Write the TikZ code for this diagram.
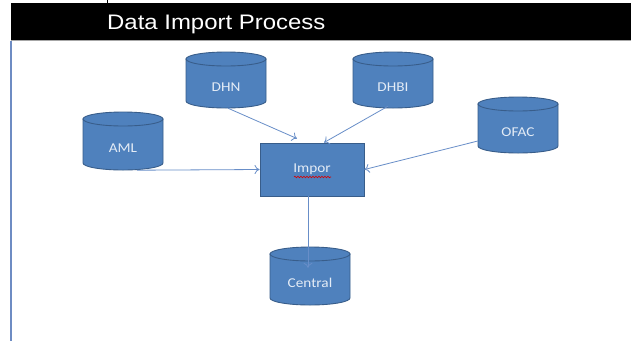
\documentclass[tikz,border=0pt]{standalone}
\usepackage{fontspec}
\setmainfont{Liberation Sans}
\newfontfamily\titlefont[FakeStretch=1.14]{Liberation Sans}
\newfontfamily\lblfont[FakeStretch=1.13]{Carlito}
\usetikzlibrary{arrows.meta,decorations.pathmorphing}

\definecolor{dbfill}{HTML}{4F81BD}
\definecolor{dbline}{HTML}{385D8A}
\definecolor{wire}{RGB}{104,142,200}
\definecolor{lbltext}{HTML}{E4ECF6}
\definecolor{frameblue}{RGB}{110,140,195}

\tikzset{
  dbshape/.style={fill=dbfill, draw=dbline, line width=0.9pt},
  dblabel/.style={inner sep=0pt, text=lbltext, font=\lblfont\fontsize{13.5}{16}\selectfont},
  procbox/.style={fill=dbfill, draw=dbline, line width=0.9pt, inner sep=0pt,
    minimum width=104pt, minimum height=53pt, text=lbltext,
    font=\lblfont\fontsize{13.5}{16}\selectfont},
  flow/.style={draw=wire, line width=0.8pt, -{To[length=5pt,width=9pt]}},
  squiggle/.style={draw=red!85!black, line width=0.6pt,
    decorate, decoration={snake, segment length=3pt, amplitude=0.8pt}},
}

% database cylinder: name, centre x, top y, bottom y, label
\newcommand\dbcyl[5]{%
  \path[dbshape] (#2-40,#3+7) -- (#2-40,#4-7)
    arc[start angle=180, end angle=360, x radius=40pt, y radius=7pt]
    -- (#2+40,#3+7) -- cycle;
  \path[dbshape] (#2,#3+7) ellipse[x radius=40pt, y radius=7pt];
  \node[dblabel, minimum width=80pt, minimum height=#4-#3-14] (#1)
    at (#2,{(#3+#4)/2+7}) {#5};
}

\begin{document}
\begin{tikzpicture}[x=1pt,y=-1pt]
\useasboundingbox (0,0) rectangle (631,341);
\fill[white] (0,0) rectangle (631,341);

% title band and frame
\fill[black] (10.5,3) rectangle (631,40);
\draw[gray!70, line width=1pt] (10.5,40.5) -- (631,40.5);
\draw[frameblue, line width=1.2pt] (11,41) -- (11,341);
\draw[black, line width=0.8pt] (107,0) -- (107,3);
\node[anchor=base west, inner sep=0pt, text=white,
  font=\titlefont\fontsize{21}{24}\selectfont] (title) at (107,29) {Data Import Process};

% data stores
\dbcyl{DHN}{226}{52}{108}{DHN}
\dbcyl{DHBI}{393}{52}{108}{DHBI}
\dbcyl{AML}{123}{112}{170}{AML}
\dbcyl{OFAC}{518}{97}{153}{OFAC}
\dbcyl{Central}{310}{247}{305}{Central}

% import step, with the spell-check underline
\node[procbox] (Impor) at (312,169.5) {Impor};
\path[squiggle] ([xshift=-18pt,yshift=-7.5pt]Impor.center) -- ([xshift=19pt,yshift=-7.5pt]Impor.center);

% flows
\draw[flow] ([xshift=2pt]DHN.south) -- ([xshift=-15pt,yshift=4pt]Impor.north);
\draw[flow] ([xshift=-5pt,yshift=2pt]DHBI.south) -- ([xshift=12pt]Impor.north);
\draw[flow] ([yshift=-9pt]OFAC.west) -- (Impor.east);
\draw[flow] ([xshift=14pt]AML.south) -- (Impor.west);
\draw[flow] ([xshift=-4pt]Impor.south) -- ([xshift=-2pt,yshift=-7pt]Central.north);
\end{tikzpicture}
\end{document}
